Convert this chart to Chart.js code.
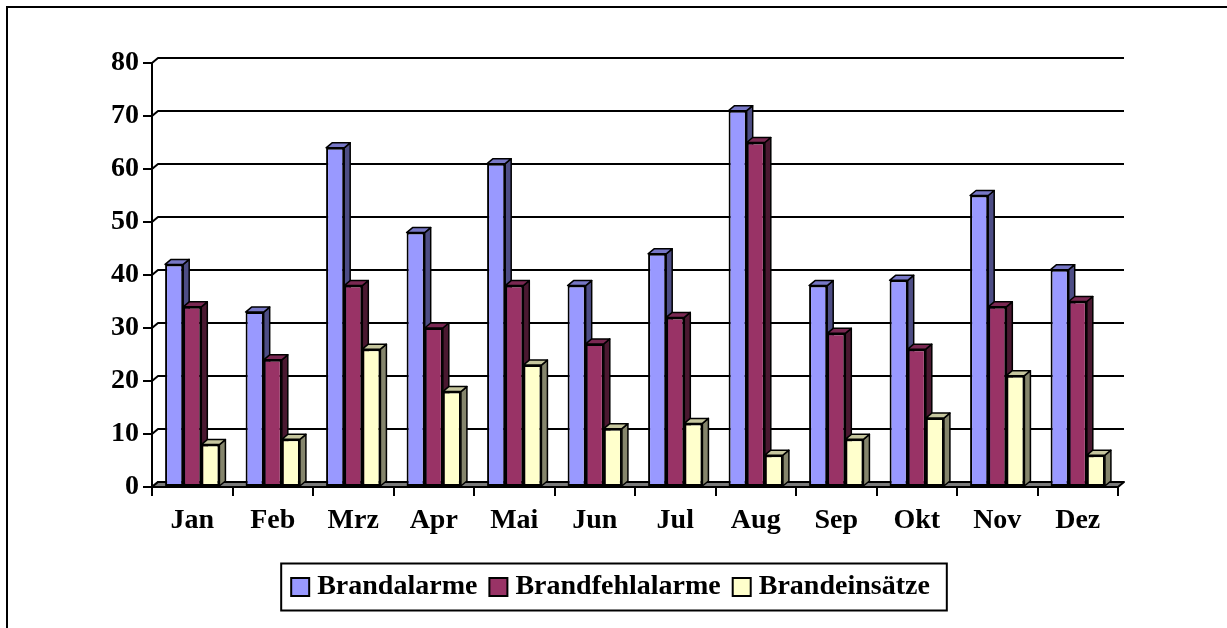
<!DOCTYPE html>
<html>
<head>
<meta charset="utf-8">
<script src="https://cdn.jsdelivr.net/npm/chart.js@4.4.1/dist/chart.umd.min.js"></script>
<style>
  html, body { margin: 0; padding: 0; background: #fff; overflow: hidden; }
  #wrap { position: relative; width: 1227px; height: 628px; }
  #frame { position: absolute; left: 6px; top: 6px; width: 1400px; height: 800px;
           border-left: 2px solid #000; border-top: 2px solid #000; pointer-events: none; }
</style>
</head>
<body>
<div id="wrap">
  <canvas id="chart"></canvas>
  <div id="frame"></div>
</div>
<script>
const months = ["Jan", "Feb", "Mrz", "Apr", "Mai", "Jun", "Jul", "Aug", "Sep", "Okt", "Nov", "Dez"];
const brandalarme = [42, 33, 64, 48, 61, 38, 44, 71, 38, 39, 55, 41];
const brandfehlalarme = [34, 24, 38, 30, 38, 27, 32, 65, 29, 26, 34, 35];
const brandeinsaetze = [8, 9, 26, 18, 23, 11, 12, 6, 9, 13, 21, 6];
const yTicks = [0, 10, 20, 30, 40, 50, 60, 70, 80];

const fontFamily = "'Liberation Serif', 'Times New Roman', serif";

// depth offset of the fake 3D look
const DX = 6, DY = -5;
const sideColors = ["#4d4d85", "#4a1830", "#85856c"];
const topColors = ["#7777c6", "#7a2852", "#c6c69e"];

function poly(ctx, pts, fill) {
  ctx.beginPath();
  ctx.moveTo(pts[0][0], pts[0][1]);
  for (let i = 1; i < pts.length; i++) ctx.lineTo(pts[i][0], pts[i][1]);
  ctx.closePath();
  ctx.fillStyle = fill;
  ctx.fill();
  ctx.stroke();
}

// back wall, floor and the side/top faces of each column
const depthPlugin = {
  id: "depth",
  beforeDatasetsDraw(chart) {
    const { ctx, chartArea: a, scales: { y } } = chart;
    ctx.save();
    ctx.strokeStyle = "#000";
    ctx.lineWidth = 2;
    ctx.lineJoin = "round";
    yTicks.forEach((v) => {
      const py = y.getPixelForValue(v);
      ctx.beginPath();
      ctx.moveTo(a.left, py);
      ctx.lineTo(a.left + DX, py + DY);
      ctx.lineTo(a.right + DX, py + DY);
      ctx.stroke();
    });
    const p0 = y.getPixelForValue(0);
    poly(ctx, [[a.left, p0], [a.left + DX, p0 + DY], [a.right + DX, p0 + DY], [a.right, p0]], "#7a7a7a");

    ctx.lineWidth = 1.5;
    const metas = chart.data.datasets.map((d, i) => chart.getDatasetMeta(i));
    for (let j = 0; j < months.length; j++) {
      metas.forEach((m, i) => {
        const b = m.data[j];
        const l = b.x - b.width / 2, r = b.x + b.width / 2;
        poly(ctx, [[r, b.y], [r + DX, b.y + DY], [r + DX, b.base + DY], [r, b.base]], sideColors[i]);
        poly(ctx, [[l, b.y], [l + DX, b.y + DY], [r + DX, b.y + DY], [r, b.y]], topColors[i]);
      });
    }
    ctx.restore();
  },
  afterDraw(chart) {
    // frame around the legend
    const hb = chart.legend.legendHitBoxes;
    if (!hb || !hb.length) return;
    const last = hb[hb.length - 1];
    const left = hb[0].left - 16;
    const right = last.left + last.width + 17;
    const top = hb[0].top - 9.5;
    const ctx = chart.ctx;
    ctx.save();
    ctx.strokeStyle = "#000";
    ctx.lineWidth = 2;
    ctx.strokeRect(left, top, right - left, 47);
    ctx.restore();
  }
};

new Chart(document.getElementById("chart"), {
  type: "bar",
  data: {
    labels: months,
    datasets: [
      { label: "Brandalarme", data: brandalarme, backgroundColor: "#9999ff" },
      { label: "Brandfehlalarme", data: brandfehlalarme, backgroundColor: "#993366" },
      { label: "Brandeinsätze", data: brandeinsaetze, backgroundColor: "#ffffcc" }
    ]
  },
  options: {
    responsive: true,
    maintainAspectRatio: false,
    animation: false,
    datasets: {
      bar: {
        borderColor: "#000",
        borderWidth: 2,
        borderSkipped: false,
        categoryPercentage: 0.675,
        barPercentage: 1
      }
    },
    layout: { padding: { left: 0, right: 0, top: 63, bottom: 17 } },
    plugins: {
      legend: {
        position: "bottom",
        labels: {
          usePointStyle: true,
          pointStyle: "rect",
          boxWidth: 6,
          boxHeight: 18,
          padding: 18,
          color: "#000",
          font: { family: fontFamily, size: 28, weight: "bold" }
        }
      },
      tooltip: { enabled: false }
    },
    scales: {
      x: {
        grid: { display: true, drawOnChartArea: false, drawTicks: true, tickLength: 9, color: "#000", lineWidth: 2 },
        border: { display: true, color: "#000", width: 2 },
        ticks: { color: "#000", padding: 8, font: { family: fontFamily, size: 28, weight: "bold" } },
        afterFit(scale) { scale.height = 68; }
      },
      y: {
        min: 0,
        max: 80,
        grid: { display: true, drawOnChartArea: false, drawTicks: true, tickLength: 9, color: "#000", lineWidth: 2 },
        border: { display: true, color: "#000", width: 2 },
        ticks: {
          stepSize: 10,
          color: "#000",
          padding: 4,
          font: { family: fontFamily, size: 28, weight: "bold" }
        },
        afterFit(scale) { scale.width = 152; }
      },
      // empty right-hand spacer so the plot ends where the reference's does
      spacer: {
        type: "linear",
        position: "right",
        grid: { display: false },
        border: { display: false },
        ticks: { display: false },
        afterFit(scale) { scale.width = 109; }
      }
    }
  },
  plugins: [depthPlugin]
});
</script>
</body>
</html>
